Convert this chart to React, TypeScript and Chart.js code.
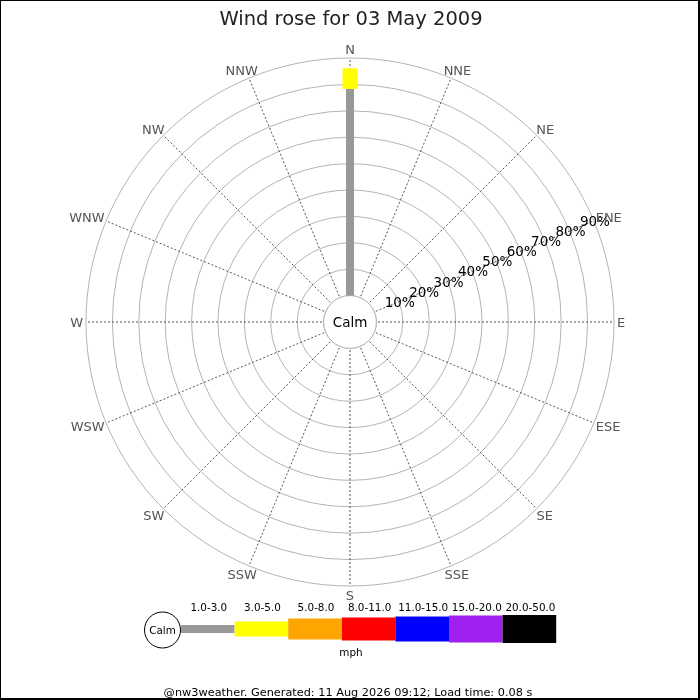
import React, { useEffect, useRef } from 'react';
import { Chart, registerables } from 'chart.js';

Chart.register(...registerables);

// ---- data ----
const directions = ['N', 'NNE', 'NE', 'ENE', 'E', 'ESE', 'SE', 'SSE', 'S', 'SSW', 'SW', 'WSW', 'W', 'WNW', 'NW', 'NNW'];
const speedBands = ['1.0-3.0', '3.0-5.0', '5.0-8.0', '8.0-11.0', '11.0-15.0', '15.0-20.0', '20.0-50.0'];
const band1to3 = [78.3, 0, 0, 0, 0, 0, 0, 0, 0, 0, 0, 0, 0, 0, 0, 0];
const band3to5 = [7.8, 0, 0, 0, 0, 0, 0, 0, 0, 0, 0, 0, 0, 0, 0, 0];
const band5to8 = [0, 0, 0, 0, 0, 0, 0, 0, 0, 0, 0, 0, 0, 0, 0, 0];
const band8to11 = [0, 0, 0, 0, 0, 0, 0, 0, 0, 0, 0, 0, 0, 0, 0, 0];
const band11to15 = [0, 0, 0, 0, 0, 0, 0, 0, 0, 0, 0, 0, 0, 0, 0, 0];
const band15to20 = [0, 0, 0, 0, 0, 0, 0, 0, 0, 0, 0, 0, 0, 0, 0, 0];
const band20to50 = [0, 0, 0, 0, 0, 0, 0, 0, 0, 0, 0, 0, 0, 0, 0, 0];
const bandSeries = [band1to3, band3to5, band5to8, band8to11, band11to15, band15to20, band20to50];
const tickValues = [10, 20, 30, 40, 50, 60, 70, 80, 90];
const tickLabels = ['10%', '20%', '30%', '40%', '50%', '60%', '70%', '80%', '90%'];
const titleText = 'Wind rose for 03 May 2009';
const calmText = 'Calm';
const unitText = 'mph';
const footerText = '@nw3weather. Generated: 11 Aug 2026 09:12; Load time: 0.08 s';

// ---- styles ----
const bandColors = ['#999999', '#ffff00', '#ffa500', '#ff0000', '#0000ff', '#a020f0', '#000000'];
const bandWidths = [8, 15, 21, 23, 25, 27, 28];
const FONT = '"DejaVu Sans", Verdana, sans-serif';
const CENTER_X = 350;
const CENTER_Y = 322;
const RADIUS = 264;
const CALM_MIN = -10; // leaves room for the calm circle
const SCALE_MAX = 90;
const CAP = 0.364; // cap-centre offset (em) for vertical centring

function centredText(ctx: CanvasRenderingContext2D, text: string, x: number, y: number, size: number) {
  ctx.font = `${size}px ${FONT}`;
  ctx.textAlign = 'center';
  ctx.textBaseline = 'alphabetic';
  ctx.fillText(text, x, y + CAP * size);
}

const windrosePlugin = {
  id: 'windrose',
  beforeDraw(chart: any) {
    const ctx = chart.ctx;
    ctx.save();
    ctx.fillStyle = '#ffffff';
    ctx.fillRect(0, 0, chart.width, chart.height);
    ctx.restore();
  },
  afterDatasetsDraw(chart: any) {
    const ctx = chart.ctx;
    const scale = chart.scales.r;
    ctx.save();
    // calm circle
    const calmR = scale.getDistanceFromCenterForValue(0);
    ctx.beginPath();
    ctx.arc(scale.xCenter, scale.yCenter, calmR, 0, Math.PI * 2);
    ctx.fillStyle = '#ffffff';
    ctx.fill();
    ctx.strokeStyle = '#b4b4b4';
    ctx.lineWidth = 1;
    ctx.stroke();
    ctx.fillStyle = '#000000';
    centredText(ctx, calmText, scale.xCenter, scale.yCenter, 13.5);

    // bars
    ctx.lineCap = 'butt';
    directions.forEach((_, i) => {
      let cum = 0;
      chart.data.datasets.forEach((ds: any, k: number) => {
        const v = ds.data[i] || 0;
        if (v > 0) {
          const p0 = scale.getPointPositionForValue(i, cum);
          const p1 = scale.getPointPositionForValue(i, cum + v);
          ctx.beginPath();
          ctx.moveTo(p0.x, p0.y);
          ctx.lineTo(p1.x, p1.y);
          ctx.strokeStyle = bandColors[k];
          ctx.lineWidth = bandWidths[k];
          ctx.stroke();
        }
        cum += v;
      });
    });

    // tick labels along ENE
    ctx.fillStyle = '#000000';
    tickValues.forEach((v, j) => {
      const p = scale.getPointPositionForValue(3, v);
      centredText(ctx, tickLabels[j], p.x + 1, p.y, 13.5);
    });

    // direction labels
    ctx.fillStyle = '#555555';
    directions.forEach((lab, i) => {
      const th = scale.getIndexAngle(i);
      const p = scale.getPointPosition(i, scale.drawingArea + 3);
      ctx.font = `13px ${FONT}`;
      const w = ctx.measureText(lab).width;
      const h = 12;
      const x = p.x + Math.sin(th) * w / 2;
      const y = p.y - Math.cos(th) * h / 2;
      centredText(ctx, lab, x, y, 13);
    });
    ctx.restore();
  },
  afterDraw(chart: any) {
    const ctx = chart.ctx;
    ctx.save();
    // title
    ctx.fillStyle = '#222222';
    ctx.font = `19.5px ${FONT}`;
    ctx.textAlign = 'center';
    ctx.textBaseline = 'alphabetic';
    ctx.fillText(titleText, 351, 25);

    // legend
    const x0 = 181;
    const segW = 53.6;
    const cy = 629;
    ctx.beginPath();
    ctx.arc(162.5, 630, 18, 0, Math.PI * 2);
    ctx.fillStyle = '#ffffff';
    ctx.fill();
    ctx.strokeStyle = '#000000';
    ctx.lineWidth = 1;
    ctx.stroke();
    ctx.fillStyle = '#000000';
    centredText(ctx, calmText, 162.5, 630, 10.4);
    speedBands.forEach((b, k) => {
      const x = x0 + k * segW;
      const h = bandWidths[k];
      ctx.fillStyle = bandColors[k];
      ctx.fillRect(x, cy - h / 2, segW, h);
      ctx.fillStyle = '#000000';
      ctx.font = `10.4px ${FONT}`;
      ctx.textAlign = 'center';
      ctx.textBaseline = 'alphabetic';
      ctx.fillText(b, x + segW / 2 + 1, 611);
    });
    ctx.font = `10.4px ${FONT}`;
    ctx.textAlign = 'center';
    ctx.textBaseline = 'alphabetic';
    ctx.fillText(unitText, 351, 656);

    // footer
    ctx.font = `11.3px ${FONT}`;
    ctx.fillText(footerText, 348, 696);

    // frame
    ctx.fillStyle = '#000000';
    ctx.fillRect(0, 0, 700, 1);
    ctx.fillRect(0, 0, 1, 700);
    ctx.fillRect(698, 0, 2, 700);
    ctx.fillRect(0, 698, 700, 2);
    ctx.restore();
  },
};

export default function App() {
  const ref = useRef<HTMLCanvasElement>(null);
  useEffect(() => {
    document.body.style.margin = '0';
    const canvas = ref.current;
    if (!canvas) return;
    const chart = new Chart(canvas, {
      type: 'radar',
      data: {
        labels: directions,
        datasets: speedBands.map((b, k) => ({
          label: b,
          data: bandSeries[k],
          showLine: false,
          pointRadius: 0,
          pointHoverRadius: 0,
          borderWidth: 0,
          fill: false,
        })),
      },
      options: {
        responsive: false,
        animation: false,
        events: [],
        layout: { padding: 0 },
        plugins: {
          legend: { display: false },
          tooltip: { enabled: false },
          title: { display: false },
        },
        scales: {
          r: {
            min: CALM_MIN,
            max: SCALE_MAX,
            beginAtZero: false,
            bounds: 'data',
            startAngle: 0,
            grid: { circular: true, color: '#b4b4b4', lineWidth: 1 },
            angleLines: { display: true, color: '#555555', lineWidth: 1, borderDash: [2, 2] },
            pointLabels: { display: false },
            ticks: { display: false, stepSize: 10 },
            afterBuildTicks: (s: any) => {
              s.ticks = [0, ...tickValues].map((v) => ({ value: v }));
            },
            afterFit: (s: any) => {
              s.xCenter = CENTER_X;
              s.yCenter = CENTER_Y;
              s.drawingArea = RADIUS;
            },
          },
        },
      } as any,
      plugins: [windrosePlugin],
    });
    return () => chart.destroy();
  }, []);
  return <canvas ref={ref} width={700} height={700} style={{ display: 'block', width: 700, height: 700 }} />;
}
